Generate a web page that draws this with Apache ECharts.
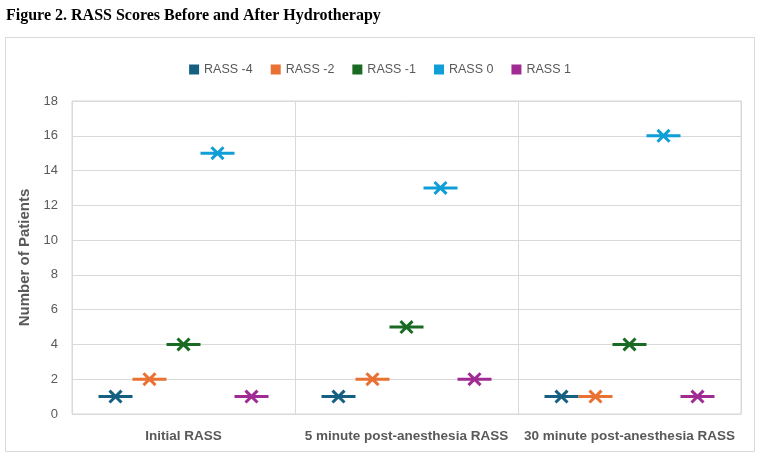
<!DOCTYPE html>
<html>
<head>
<meta charset="utf-8">
<script src="https://cdn.jsdelivr.net/npm/echarts@6/dist/echarts.min.js"></script>
<style>
  html, body { margin: 0; padding: 0; background: #fff; }
  #chart-wrapper { width: 760px; height: 457px; }
</style>
</head>
<body>
<div id="chart-wrapper"></div>
<script>
const categories = ["Initial RASS", "5 minute post-anesthesia RASS", "30 minute post-anesthesia RASS"];
const seriesNames = ["RASS -4", "RASS -2", "RASS -1", "RASS 0", "RASS 1"];
const rassMinus4 = [1, 1, 1];
const rassMinus2 = [2, 2, 1];
const rassMinus1 = [4, 5, 4];
const rass0 = [15, 13, 16];
const rass1 = [1, 2, 1];
const yTicks = { min: 0, max: 18, interval: 2 };

const COLORS = ["#156082", "#E97132", "#196B24", "#0F9ED5", "#A02B93"];
// dash with an x through it, all sub-paths wound the same way
const MARK =
  "path://M0,5.5L34,5.5L34,8.5L0,8.5Z" +
  "M12.06,-0.06L24.06,11.94L21.94,14.06L9.94,2.06Z" +
  "M24.06,2.06L12.06,14.06L9.94,11.94L21.94,-0.06Z";

const chartDom = document.getElementById("chart-wrapper");
const chart = echarts.init(chartDom);

const allValues = [rassMinus4, rassMinus2, rassMinus1, rass0, rass1];
const series = allValues.map((vals, i) => ({
  name: seriesNames[i],
  type: "scatter",
  data: vals,
  symbol: MARK,
  symbolSize: [34, 14],
  symbolOffset: [(i - 2) * 34, 0],
  itemStyle: { color: COLORS[i], opacity: 1 },
  emphasis: { disabled: true },
}));

const option = {
  animation: false,
  backgroundColor: "#fff",
  textStyle: { fontFamily: "Liberation Sans, Arial, sans-serif" },
  title: {
    text: "Figure 2. RASS Scores Before and After Hydrotherapy",
    left: 1,
    top: 3,
    textStyle: {
      fontFamily: "Liberation Serif, Times New Roman, serif",
      fontWeight: "bold",
      fontSize: 16,
      color: "#000",
    },
  },
  graphic: [
    {
      type: "rect",
      shape: { x: 5.5, y: 37.5, width: 749, height: 414 },
      style: { fill: null, stroke: "#d9d9d9", lineWidth: 1 },
      silent: true,
    },
  ],
  legend: {
    top: 58,
    left: "center",
    itemWidth: 10,
    itemHeight: 10,
    itemGap: 18,
    icon: "rect",
    textStyle: { color: "#595959", fontSize: 12.5 },
    data: seriesNames,
  },
  grid: {
    left: 72,
    right: 19,
    top: 101,
    bottom: 43,
    show: true,
    borderColor: "#d9d9d9",
    borderWidth: 1,
  },
  xAxis: {
    type: "category",
    data: categories,
    axisLine: { show: false },
    axisTick: { show: false },
    splitLine: { show: true, lineStyle: { color: "#d9d9d9" } },
    axisLabel: {
      color: "#595959",
      fontWeight: "bold",
      fontSize: 13.5,
      margin: 15,
      interval: 0,
    },
  },
  yAxis: {
    type: "value",
    min: yTicks.min,
    max: yTicks.max,
    interval: yTicks.interval,
    name: "Number of Patients",
    nameLocation: "middle",
    nameGap: 40,
    nameTextStyle: { color: "#595959", fontWeight: "bold", fontSize: 15 },
    axisLine: { show: false },
    axisTick: { show: false },
    splitLine: { lineStyle: { color: "#d9d9d9" } },
    axisLabel: { color: "#595959", fontSize: 13, margin: 14 },
  },
  series: series,
};

chart.setOption(option);
</script>
</body>
</html>
